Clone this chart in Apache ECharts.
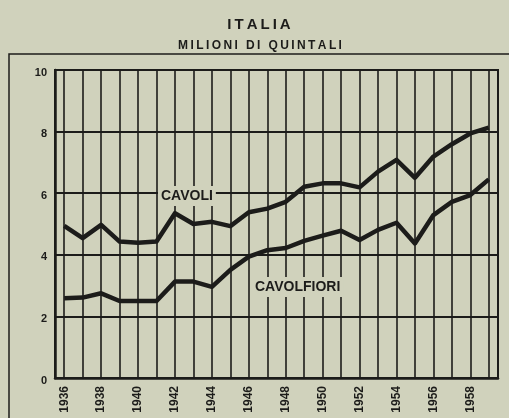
<!DOCTYPE html>
<html>
<head>
<meta charset="utf-8">
<script src="https://cdn.jsdelivr.net/npm/echarts@6/dist/echarts.min.js"></script>
<style>
  html, body { margin: 0; padding: 0; background: #d0d2bc; }
</style>
</head>
<body>
<div id="chart" style="width: 509px;height:418px;"></div>
<script>
// anni e produzione (milioni di quintali)
const years = ['1936', '1937', '1938', '1939', '1940', '1941', '1942', '1943', '1944', '1945', '1946', '1947',
  '1948', '1949', '1950', '1951', '1952', '1953', '1954', '1955', '1956', '1957', '1958', '1959']
const cavoli = [4.94, 4.54, 4.97, 4.43, 4.39, 4.43, 5.35, 5.0, 5.07, 4.93, 5.38, 5.5,
  5.72, 6.21, 6.32, 6.32, 6.19, 6.7, 7.08, 6.5, 7.19, 7.59, 7.94, 8.13]
const cavolfiori = [2.59, 2.61, 2.75, 2.5, 2.5, 2.5, 3.13, 3.13, 2.96, 3.51, 3.94, 4.15,
  4.22, 4.45, 4.62, 4.78, 4.48, 4.81, 5.04, 4.37, 5.29, 5.72, 5.94, 6.45]
const yTicks = [0, 2, 4, 6, 8, 10]

const bg = '#d0d2bc'
const ink = '#1c1c1a'
const font = 'Liberation Sans'

// spaziatura tra le lettere (thin space)
function spaced (s) {
  return s.split('').join('\u2009')
}

let myChart = echarts.init(document.getElementById('chart'))
let option = {
  animation: false,
  backgroundColor: bg,
  title: [
    {
      text: spaced('ITALIA'),
      left: 254,
      textAlign: 'center',
      top: 12,
      textStyle: { fontFamily: font, fontWeight: 'bold', fontSize: 15, color: ink }
    },
    {
      text: spaced('MILIONI DI QUINTALI'),
      left: 255,
      textAlign: 'center',
      top: 35,
      textStyle: { fontFamily: font, fontWeight: 'bold', fontSize: 12, color: ink }
    }
  ],
  grid: {
    left: 55,
    right: 11,
    top: 70,
    bottom: 40,
    show: true,
    borderColor: ink,
    borderWidth: 2
  },
  xAxis: {
    type: 'category',
    data: years,
    boundaryGap: true,
    axisLine: { lineStyle: { color: ink, width: 2.5 } },
    axisTick: { show: false },
    splitLine: { show: false },
    axisLabel: {
      interval: 1,
      rotate: 90,
      margin: 8,
      color: ink,
      fontFamily: font,
      fontWeight: 'bold',
      fontSize: 12
    }
  },
  yAxis: {
    type: 'value',
    min: yTicks[0],
    max: yTicks[yTicks.length - 1],
    interval: 2,
    axisLine: { show: true, lineStyle: { color: ink, width: 2.5 } },
    axisTick: { show: false },
    splitLine: { lineStyle: { color: ink, width: 2 } },
    axisLabel: {
      margin: 8,
      color: ink,
      fontFamily: font,
      fontWeight: 'bold',
      fontSize: 11,
      verticalAlign: 'top',
      padding: [-3, 0, 0, 0]
    }
  },
  graphic: [
    {
      type: 'rect',
      z: -1,
      shape: { x: 9, y: 54, width: 520, height: 400 },
      style: { fill: 'none', stroke: ink, lineWidth: 1.5 }
    },
    {
      type: 'text',
      z: 100,
      x: 158,
      y: 186,
      style: {
        text: 'CAVOLI', fill: ink, font: 'bold 14px "Liberation Sans"',
        backgroundColor: bg, padding: [3, 3, 3, 3]
      }
    },
    {
      type: 'text',
      z: 100,
      x: 252,
      y: 277,
      style: {
        text: 'CAVOLFIORI', fill: ink, font: 'bold 14px "Liberation Sans"',
        backgroundColor: bg, padding: [3, 3, 3, 3]
      }
    }
  ],
  series: [
    {
      name: 'CAVOLI',
      type: 'line',
      data: cavoli,
      symbol: 'none',
      z: 5,
      lineStyle: { color: ink, width: 4.5, join: 'round' },
      markLine: {
        silent: true,
        symbol: 'none',
        label: { show: false },
        lineStyle: { color: ink, width: 1.6, type: 'solid' },
        data: years.map(function (y) {
          return { xAxis: y }
        })
      }
    },
    {
      name: 'CAVOLFIORI',
      type: 'line',
      data: cavolfiori,
      symbol: 'none',
      z: 5,
      lineStyle: { color: ink, width: 4.5, join: 'round' }
    }
  ]
}
myChart.setOption(option)
</script>
</body>
</html>
